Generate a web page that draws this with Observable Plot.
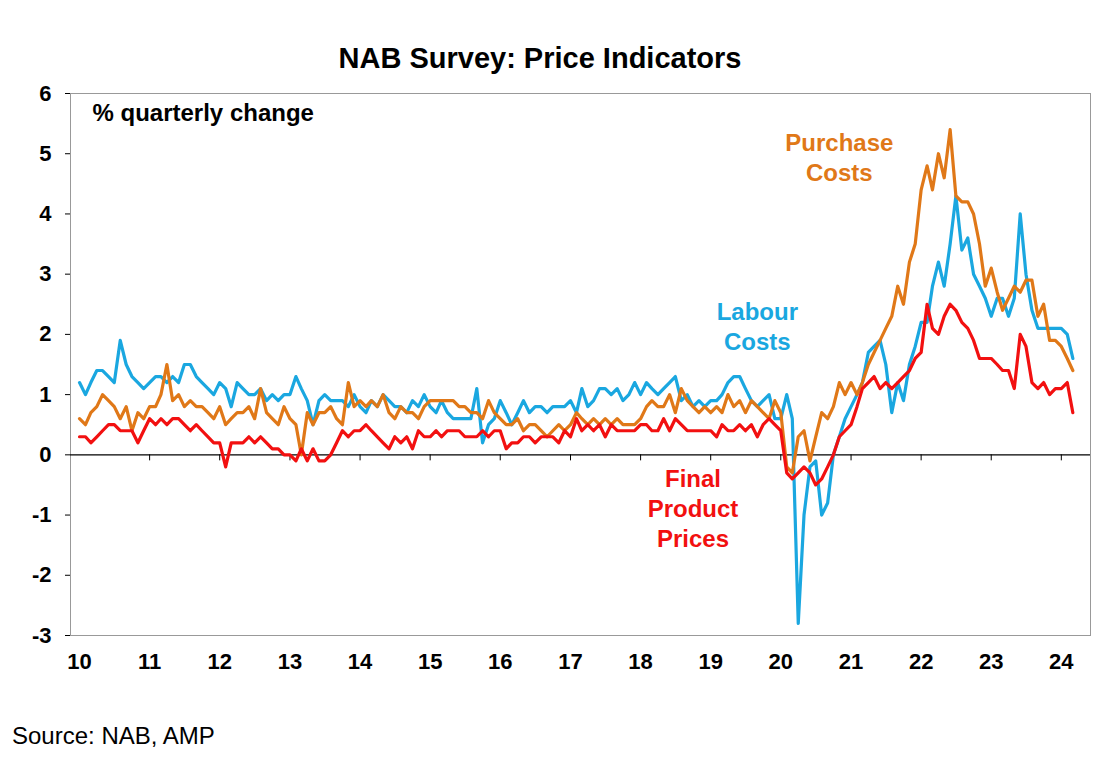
<!DOCTYPE html>
<html><head><meta charset="utf-8">
<script src="https://cdn.jsdelivr.net/npm/d3@7"></script>
<script src="https://cdn.jsdelivr.net/npm/@observablehq/plot@0.6"></script>
<style>
body{margin:0;background:#fff;font-family:"Liberation Sans",Arial,sans-serif;width:1115px;height:776px;position:relative;overflow:hidden}
#title{position:absolute;top:42px;left:0;width:1080px;text-align:center;font-weight:bold;font-size:29px;padding-left:0}
#chart{position:absolute;top:0;left:0}
#src{position:absolute;top:722px;left:12px;font-size:24px}
</style></head><body>
<div id="chart"></div>
<div id="title">NAB Survey: Price Indicators</div>
<div id="src">Source: NAB, AMP</div>
<script>
const startYear = 2010, startMonth = 0;
const labour = [
1.2,1.0,1.2,1.4,1.4,1.3,1.2,1.9,1.5,1.3,1.2,1.1,
1.2,1.3,1.3,1.2,1.3,1.2,1.5,1.5,1.3,1.2,1.1,1.0,
1.2,1.1,0.8,1.2,1.1,1.0,1.0,1.1,0.9,1.0,0.9,1.0,
1.0,1.3,1.1,0.9,0.5,0.9,1.0,0.9,0.9,0.9,0.8,1.0,
0.8,0.7,0.9,0.8,1.0,0.9,0.8,0.8,0.7,0.9,0.8,1.0,
0.8,0.7,0.9,0.7,0.6,0.6,0.6,0.6,1.1,0.2,0.5,0.6,
0.9,0.7,0.5,0.7,0.9,0.7,0.8,0.8,0.7,0.8,0.8,0.8,
0.9,0.7,1.1,0.8,0.9,1.1,1.1,1.0,1.1,0.9,1.0,1.2,
1.0,1.2,1.1,1.0,1.1,1.2,1.3,0.9,1.0,0.8,0.9,0.8,
0.9,0.9,1.0,1.2,1.3,1.3,1.1,0.9,0.8,0.9,1.0,0.6,
0.6,1.0,0.6,-2.8,-1.0,-0.2,-0.1,-1.0,-0.8,0.0,0.3,0.6,
0.8,1.0,1.2,1.7,1.8,1.9,1.5,0.7,1.2,0.9,1.5,1.8,
2.2,2.2,2.8,3.2,2.8,3.5,4.3,3.4,3.6,3.0,2.8,2.6,
2.3,2.6,2.6,2.3,2.6,4.0,3.0,2.4,2.1,2.1,2.1,2.1,
2.1,2.0,1.6];
const purchase = [
0.6,0.5,0.7,0.8,1.0,0.9,0.8,0.6,0.8,0.4,0.7,0.6,
0.8,0.8,1.0,1.5,0.9,1.0,0.8,0.9,0.8,0.8,0.7,0.6,
0.8,0.5,0.6,0.7,0.7,0.8,0.6,1.1,0.7,0.6,0.5,0.8,
0.6,0.5,0.0,0.7,0.5,0.7,0.7,0.8,0.6,0.5,1.2,0.8,
0.9,0.8,0.9,0.8,1.0,0.7,0.6,0.8,0.7,0.7,0.6,0.8,
0.9,0.9,0.9,0.9,0.9,0.8,0.8,0.7,0.7,0.6,0.9,0.7,
0.6,0.5,0.5,0.6,0.4,0.5,0.5,0.4,0.3,0.4,0.5,0.4,
0.5,0.7,0.6,0.5,0.6,0.5,0.6,0.5,0.6,0.5,0.5,0.5,
0.6,0.8,0.9,0.8,0.8,1.0,0.7,1.1,0.9,0.8,0.7,0.8,
0.7,0.8,0.7,1.0,0.8,0.9,0.7,0.9,0.8,0.7,0.6,0.9,
0.7,-0.2,-0.3,0.3,0.4,-0.1,0.3,0.7,0.6,0.8,1.2,1.0,
1.2,1.0,1.2,1.5,1.7,1.9,2.1,2.3,2.8,2.5,3.2,3.5,
4.4,4.8,4.4,5.0,4.6,5.4,4.3,4.2,4.2,4.0,3.5,2.8,
3.1,2.7,2.4,2.6,2.8,2.7,2.9,2.9,2.3,2.5,1.9,1.9,
1.8,1.6,1.4];
const finalPrices = [
0.3,0.3,0.2,0.3,0.4,0.5,0.5,0.4,0.4,0.4,0.2,0.4,
0.6,0.5,0.6,0.5,0.6,0.6,0.5,0.4,0.5,0.4,0.3,0.2,
0.2,-0.2,0.2,0.2,0.2,0.3,0.2,0.3,0.2,0.1,0.1,0.0,
0.0,-0.1,0.1,-0.1,0.1,-0.1,-0.1,0.0,0.2,0.4,0.3,0.4,
0.4,0.5,0.4,0.3,0.2,0.1,0.3,0.2,0.3,0.1,0.4,0.3,
0.3,0.4,0.3,0.4,0.4,0.4,0.3,0.3,0.3,0.4,0.3,0.4,
0.4,0.1,0.2,0.2,0.3,0.3,0.2,0.3,0.3,0.3,0.2,0.4,
0.3,0.6,0.4,0.5,0.4,0.5,0.3,0.5,0.4,0.4,0.4,0.4,
0.5,0.5,0.4,0.4,0.6,0.4,0.6,0.5,0.4,0.4,0.4,0.4,
0.4,0.3,0.5,0.4,0.4,0.5,0.4,0.5,0.3,0.5,0.6,0.5,
0.4,-0.3,-0.4,-0.3,-0.2,-0.3,-0.5,-0.4,-0.2,0.0,0.3,0.4,
0.5,0.8,1.1,1.2,1.3,1.1,1.2,1.1,1.2,1.3,1.4,1.6,
1.7,2.5,2.1,2.0,2.3,2.5,2.4,2.2,2.1,1.9,1.6,1.6,
1.6,1.5,1.4,1.4,1.1,2.0,1.8,1.2,1.1,1.2,1.0,1.1,
1.1,1.2,0.7];
const yTicks = [-3,-2,-1,0,1,2,3,4,5,6];
const years = d3.range(2010, 2025);
const series = [
  {name:"Labour Costs", values: labour, color:"#1aa7e0"},
  {name:"Purchase Costs", values: purchase, color:"#e07818"},
  {name:"Final Product Prices", values: finalPrices, color:"#f21010"}
];
const rows = series.flatMap(s => s.values.map((v,i)=>({series:s.name, date:new Date(startYear, startMonth+i, 1), v})));
const labels = [
  {lines:["Purchase","Costs"], date:new Date(2020,10,1), v:5.4, color:"#e07818"},
  {lines:["Labour","Costs"], date:new Date(2019,8,1), v:2.6, color:"#1aa7e0"},
  {lines:["Final","Product","Prices"], date:new Date(2018,9,1), v:-0.18, color:"#f21010"}
];
const plot = Plot.plot({
  width:1115, height:690,
  marginTop:93, marginBottom:55, marginLeft:70, marginRight:25,
  style:{fontFamily:"Liberation Sans, Arial, sans-serif"},
  x:{type:"time", domain:[new Date(2009,10,15), new Date(2024,5,1)], label:null},
  y:{domain:[-3,6], label:null},
  color:{domain:series.map(s=>s.name), range:series.map(s=>s.color)},
  marks:[
    Plot.frame({stroke:"#999"}),
    Plot.ruleY([0],{stroke:"#000",strokeWidth:1.2}),
    Plot.ruleX(years.slice(1),{x:d=>new Date(d,0,1), y1:0, y2:-0.1, stroke:"#000"}),
    Plot.axisY({ticks:yTicks, tickSize:5, tickFormat:d=>d, fontSize:22, fontWeight:"bold", tickPadding:14, label:null}),
    Plot.axisX({ticks:years.map(y=>new Date(y,0,1)), tickSize:0, tickFormat:d=>String(d.getFullYear()).slice(2), fontSize:22, fontWeight:"bold", tickPadding:18, label:null}),
    Plot.line(rows,{x:"date", y:"v", z:"series", stroke:"series", strokeWidth:3.2}),
    Plot.text(labels,{x:"date", y:"v", text:d=>d.lines.join("\n"), fill:d=>d.color, fontSize:24, fontWeight:"bold", lineHeight:1.25, textAnchor:"middle", lineAnchor:"top"}),
    Plot.text(["% quarterly change"],{frameAnchor:"top-left", dx:22, dy:10, fontSize:24, fontWeight:"bold", textAnchor:"start", lineAnchor:"top"})
  ]
});
document.getElementById("chart").appendChild(plot);
</script>
</body></html>
